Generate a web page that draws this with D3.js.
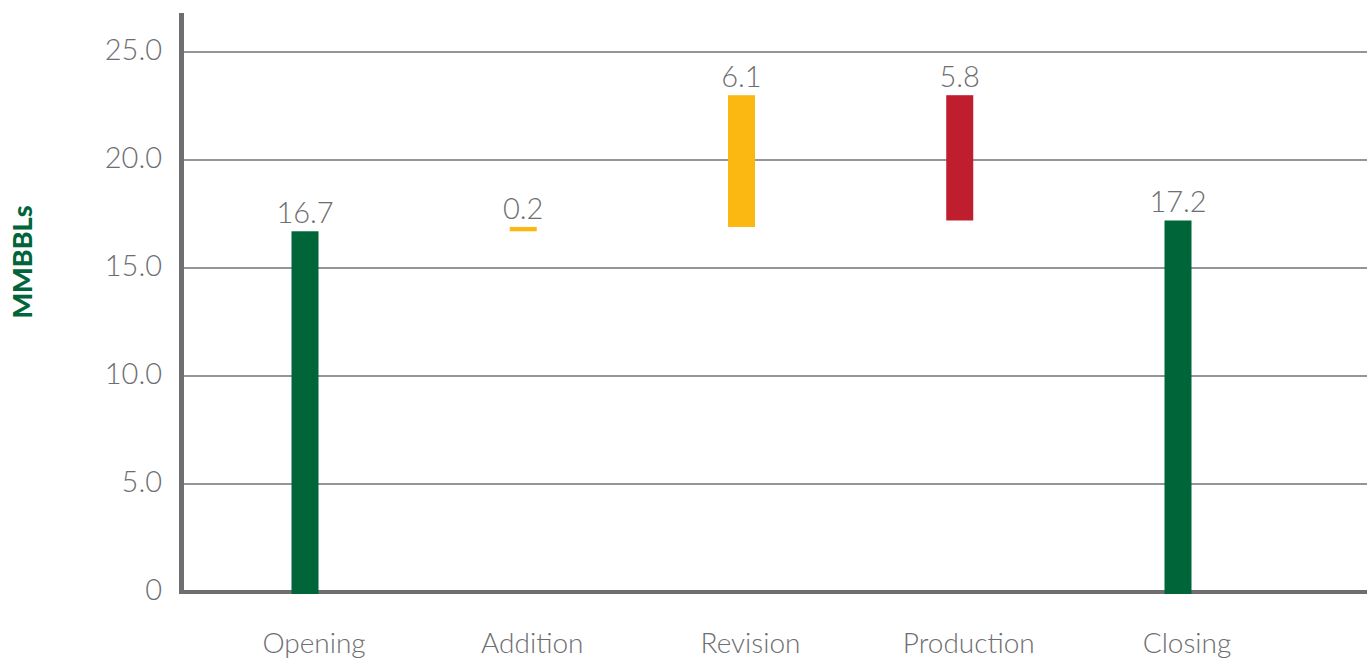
<!DOCTYPE html>
<html>
<head>
<meta charset="utf-8">
<script src="https://cdn.jsdelivr.net/npm/d3@7"></script>
<style>
  body { margin: 0; background: #fff; }
  text { font-family: Lato, "Open Sans", sans-serif; }
</style>
</head>
<body>
<script>
(function() {
    var w = 1367,
        h = 661;

    // chart data
    var categories = ['Opening', 'Addition', 'Revision', 'Production', 'Closing'];
    var changes = [16.7, 0.2, 6.1, -5.8, 17.2];
    var kinds = ['total', 'up', 'up', 'down', 'total'];
    var labels = ['16.7', '0.2', '6.1', '5.8', '17.2'];
    var yTicks = [0, 5, 10, 15, 20, 25];

    var colors = {total: '#00663a', up: '#fbb813', down: '#be1e2d'};

    // build waterfall steps
    var running = 0;
    var steps = categories.map(function(c, i) {
        var start, end;
        if (kinds[i] === 'total') {
            start = 0; end = changes[i];
            running = changes[i];
        } else {
            start = running; end = running + changes[i];
            running = end;
        }
        return {cat: c, lo: Math.min(start, end), hi: Math.max(start, end), kind: kinds[i], label: labels[i]};
    });

    var axisX = 181.5,
        axisTop = 13,
        base = 592;

    var x = d3.scalePoint()
        .domain(categories)
        .range([305, 1178]);
    var y = d3.scaleLinear()
        .domain([0, 25])
        .range([base, 52]);

    var svg = d3.select('body')
        .append('svg')
        .attr('width', w)
        .attr('height', h);

    // gridlines
    svg.append('g')
        .selectAll('line')
        .data(yTicks.filter(function(d) { return d > 0; }))
        .enter()
        .append('line')
        .attr('x1', axisX)
        .attr('x2', w)
        .attr('y1', function(d) { return y(d); })
        .attr('y2', function(d) { return y(d); })
        .attr('stroke', '#939598')
        .attr('stroke-width', 2);

    // y tick labels
    svg.append('g')
        .selectAll('text')
        .data(yTicks)
        .enter()
        .append('text')
        .attr('x', 162)
        .attr('y', function(d) { return y(d) + 8; })
        .attr('text-anchor', 'end')
        .attr('font-size', 29)
        .attr('font-weight', 300)
        .attr('fill', '#6d6e71')
        .text(function(d) { return d === 0 ? '0' : d3.format('.1f')(d); });

    // axes
    svg.append('line')
        .attr('x1', axisX).attr('x2', axisX)
        .attr('y1', axisTop).attr('y2', base + 2)
        .attr('stroke', '#6d6e71')
        .attr('stroke-width', 5);
    svg.append('line')
        .attr('x1', axisX - 2.5).attr('x2', w)
        .attr('y1', base).attr('y2', base)
        .attr('stroke', '#6d6e71')
        .attr('stroke-width', 4);

    // bars
    var bw = 27;
    svg.append('g')
        .selectAll('rect')
        .data(steps)
        .enter()
        .append('rect')
        .attr('x', function(d) { return x(d.cat) - bw / 2; })
        .attr('width', bw)
        .attr('y', function(d) { return y(d.hi); })
        .attr('height', function(d) { return y(d.lo) - y(d.hi) + (d.lo === 0 ? 2 : 0); })
        .attr('fill', function(d) { return colors[d.kind]; });

    // value labels
    svg.append('g')
        .selectAll('text')
        .data(steps)
        .enter()
        .append('text')
        .attr('x', function(d) { return x(d.cat); })
        .attr('y', function(d) { return y(d.hi) - 8; })
        .attr('text-anchor', 'middle')
        .attr('font-size', 29)
        .attr('font-weight', 300)
        .attr('fill', '#6d6e71')
        .text(function(d) { return d.label; });

    // category labels
    svg.append('g')
        .selectAll('text')
        .data(categories)
        .enter()
        .append('text')
        .attr('x', function(d) { return x(d) + 9; })
        .attr('y', 653)
        .attr('text-anchor', 'middle')
        .attr('font-size', 28)
        .attr('font-weight', 300)
        .attr('fill', '#6d6e71')
        .text(function(d) { return d; });

    // y axis title
    svg.append('text')
        .attr('transform', 'translate(32,262) rotate(-90)')
        .attr('text-anchor', 'middle')
        .attr('font-size', 27)
        .attr('font-weight', 900)
        .attr('fill', '#00663a')
        .text('MMBBLs');
})();
</script>
</body>
</html>
